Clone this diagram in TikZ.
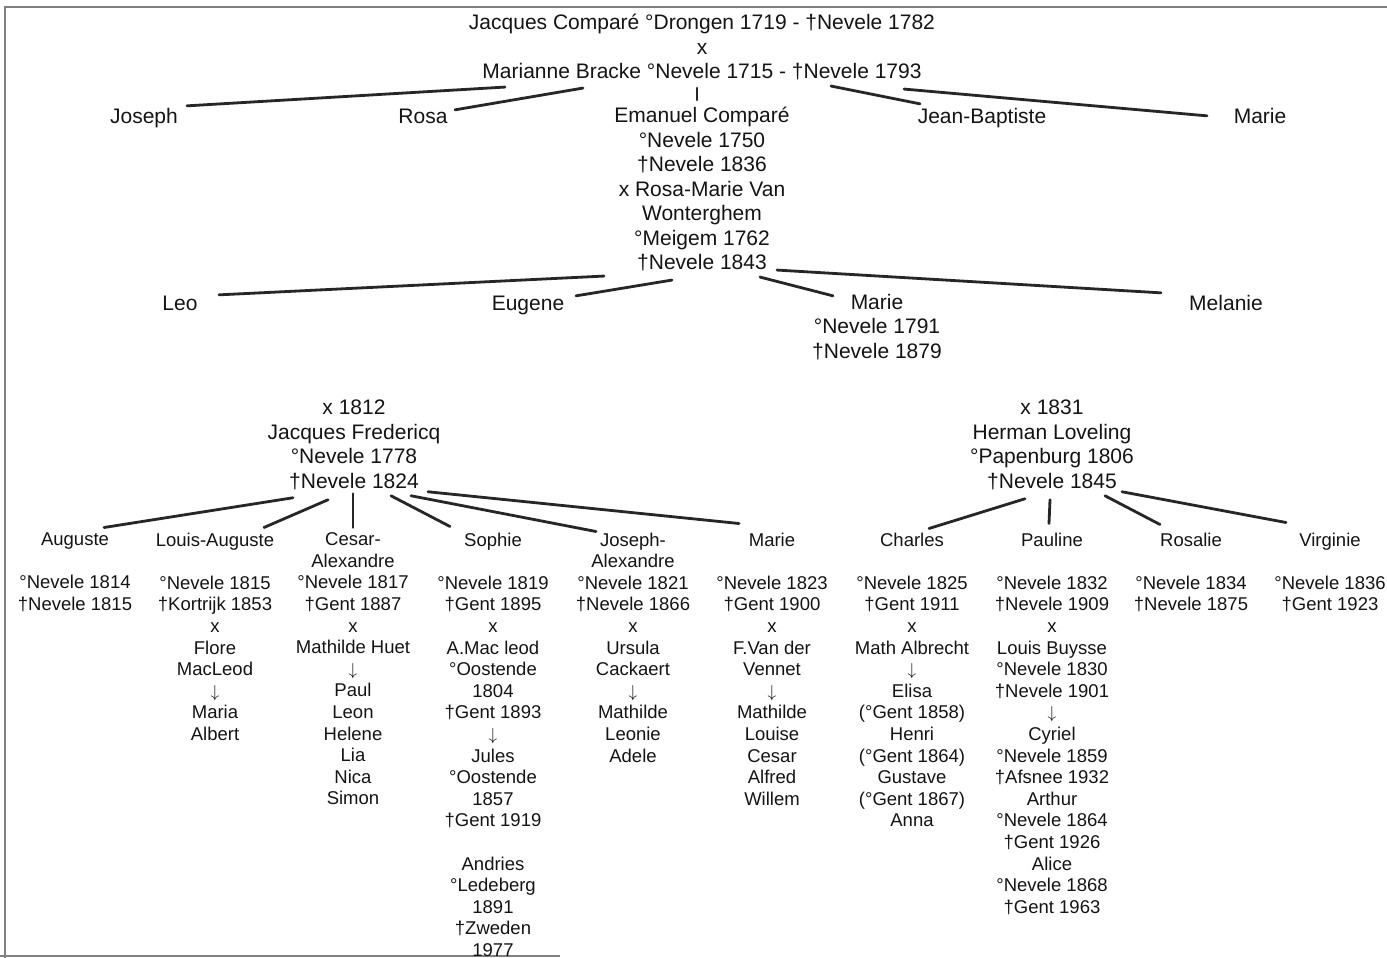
\documentclass[tikz,border=0pt]{standalone}
\usepackage{fontspec}
\setmainfont{Liberation Sans}

\newcommand{\dn}{$\downarrow$}

\begin{document}
\begin{tikzpicture}[x=1pt,y=-1pt,
    gen/.style={font=\fontsize{21}{24.5}\selectfont, align=center, inner sep=0pt, anchor=north, text=black!92,
      execute at begin node=\strut, execute at end node=\strut},
    kid/.style={font=\fontsize{18.5}{21.6}\selectfont, align=center, inner sep=0pt, anchor=north, text=black!92,
      execute at begin node=\strut, execute at end node=\strut},
    link/.style={line width=2.8pt, line cap=round, draw=black!85},
    edgeline/.style={line width=1.2pt, draw=black!50}]
  \useasboundingbox[fill=white] (0,0) rectangle (1387,958);
  % edge of the scanned page
  \draw[edgeline] (5,958) -- (5,7) -- (1387,7);
  \draw[edgeline] (0,956) -- (560,956);

  % first couple
  \node[gen] (ouders) at (702,13.85) {Jacques Comparé °Drongen 1719 - †Nevele 1782\\x\\Marianne Bracke °Nevele 1715 - †Nevele 1793};

  % their children
  \node[gen] (joseph) at (144,105.85) {Joseph};
  \node[gen] (rosa) at (423,105.85) {Rosa};
  \node[gen] (emanuel) at (702,106.85) {Emanuel Comparé\\°Nevele 1750\\†Nevele 1836\\x Rosa-Marie Van\\Wonterghem\\°Meigem 1762\\†Nevele 1843};
  \node[gen] (jeanbaptiste) at (982,105.85) {Jean-Baptiste};
  \node[gen] (marieA) at (1260,105.85) {Marie};

  \draw[link] ([xshift=-197pt,yshift=-1pt]ouders.south) -- ([xshift=43pt]joseph.north);
  \draw[link] ([xshift=-119pt,yshift=-2pt]ouders.south) -- ([xshift=32pt,yshift=-4pt]rosa.north);
  \draw[link] ([xshift=-5pt,yshift=-2pt]ouders.south) -- ([xshift=-5pt,yshift=7pt]emanuel.north);
  \draw[link] ([xshift=129pt]ouders.south) -- ([xshift=-62pt,yshift=2pt]jeanbaptiste.north);
  \draw[link] ([xshift=202pt,yshift=-3pt]ouders.south) -- ([xshift=-53pt,yshift=-10pt]marieA.north);

  % children of Emanuel
  \node[gen] (leo) at (180,292.85) {Leo};
  \node[gen] (eugene) at (528,292.85) {Eugene};
  \node[gen] (marieB) at (877,293.85) {Marie\\°Nevele 1791\\†Nevele 1879};
  \node[gen] (melanie) at (1226,292.85) {Melanie};

  \draw[link] ([xshift=-98pt,yshift=1pt]emanuel.south) -- ([xshift=39pt,yshift=-2pt]leo.north);
  \draw[link] ([xshift=-30pt,yshift=-3pt]emanuel.south) -- ([xshift=48pt,yshift=-3pt]eugene.north);
  \draw[link] ([xshift=58pt]emanuel.south) -- ([xshift=-44pt,yshift=-2pt]marieB.north);
  \draw[link] ([xshift=75pt,yshift=7pt]emanuel.south) -- ([xshift=-65pt]melanie.north);

  % the two marriages
  \node[gen] (fredericq) at (354,399.85) {x 1812\\Jacques Fredericq\\°Nevele 1778\\†Nevele 1824};
  \node[gen] (loveling) at (1052,399.85) {x 1831\\Herman Loveling\\°Papenburg 1806\\†Nevele 1845};

  % Fredericq children
  \node[kid] (auguste) at (75,532.5) {Auguste\\[21.6pt]°Nevele 1814\\†Nevele 1815};
  \node[kid] (louis) at (215,532.5) {Louis-Auguste\\[21.6pt]°Nevele 1815\\†Kortrijk 1853\\x\\Flore\\MacLeod\\\dn\\Maria\\Albert};
  \node[kid] (cesar) at (353,532.5) {Cesar-\\Alexandre\\°Nevele 1817\\†Gent 1887\\x\\Mathilde Huet\\\dn\\Paul\\Leon\\Helene\\Lia\\Nica\\Simon};
  \node[kid] (sophie) at (493,532.5) {Sophie\\[21.6pt]°Nevele 1819\\†Gent 1895\\x\\A.Mac leod\\°Oostende\\1804\\†Gent 1893\\\dn\\Jules\\°Oostende\\1857\\†Gent 1919\\[21.6pt]Andries\\°Ledeberg\\1891\\†Zweden\\1977};
  \node[kid] (josephA) at (633,532.5) {Joseph-\\Alexandre\\°Nevele 1821\\†Nevele 1866\\x\\Ursula\\Cackaert\\\dn\\Mathilde\\Leonie\\Adele};
  \node[kid] (marieC) at (772,532.5) {Marie\\[21.6pt]°Nevele 1823\\†Gent 1900\\x\\F.Van der\\Vennet\\\dn\\Mathilde\\Louise\\Cesar\\Alfred\\Willem};

  \draw[link] ([xshift=-61pt,yshift=-2pt]fredericq.south) -- ([xshift=29pt,yshift=5pt]auguste.north);
  \draw[link] ([xshift=-26pt,yshift=-4pt]fredericq.south) -- ([xshift=49pt,yshift=5pt]louis.north);
  \draw[link] ([xshift=-1pt,yshift=2pt]fredericq.south) -- ([yshift=5pt]cesar.north);
  \draw[link] ([xshift=37pt]fredericq.south) -- ([xshift=-43pt,yshift=6pt]sophie.north);
  \draw[link] ([xshift=57pt]fredericq.south) -- ([xshift=-37pt,yshift=1pt]josephA.north);
  \draw[link] ([xshift=74pt,yshift=4pt]fredericq.south) -- ([xshift=-33pt,yshift=9pt]marieC.north);

  % Loveling children
  \node[kid] (charles) at (912,532.5) {Charles\\[21.6pt]°Nevele 1825\\†Gent 1911\\x\\Math Albrecht\\\dn\\Elisa\\(°Gent 1858)\\Henri\\(°Gent 1864)\\Gustave\\(°Gent 1867)\\Anna};
  \node[kid] (pauline) at (1052,532.5) {Pauline\\[21.6pt]°Nevele 1832\\†Nevele 1909\\x\\Louis Buysse\\°Nevele 1830\\†Nevele 1901\\\dn\\Cyriel\\°Nevele 1859\\†Afsnee 1932\\Arthur\\°Nevele 1864\\†Gent 1926\\Alice\\°Nevele 1868\\†Gent 1963};
  \node[kid] (rosalie) at (1191,532.5) {Rosalie\\[21.6pt]°Nevele 1834\\†Nevele 1875};
  \node[kid] (virginie) at (1330,532.5) {Virginie\\[21.6pt]°Nevele 1836\\†Gent 1923};

  \draw[link] ([xshift=-27pt,yshift=-3pt]loveling.south) -- ([xshift=17pt,yshift=4pt]charles.north);
  \draw[link] ([xshift=-2pt,yshift=-4pt]loveling.south) -- ([xshift=-3pt,yshift=9pt]pauline.north);
  \draw[link] ([xshift=53pt]loveling.south) -- ([xshift=-31pt,yshift=8pt]rosalie.north);
  \draw[link] ([xshift=70pt,yshift=4pt]loveling.south) -- ([xshift=-44pt,yshift=10pt]virginie.north);
\end{tikzpicture}
\end{document}
